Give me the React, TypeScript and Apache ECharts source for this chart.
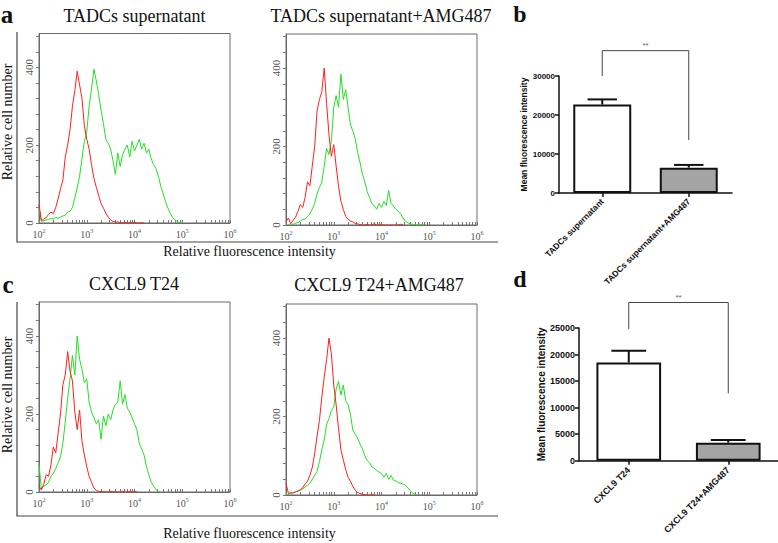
import React, { useEffect, useRef } from "react";
import * as echarts from "echarts";

// ---------- data ----------
// histogram bin centres (log10 of fluorescence intensity)
const LOG_BINS = [
  2.0, 2.05, 2.1, 2.15, 2.2, 2.25, 2.3, 2.35, 2.4, 2.45, 2.5, 2.55, 2.6, 2.65, 2.7, 2.75, 2.8, 2.85, 2.9, 2.95,
  3.0, 3.05, 3.1, 3.15, 3.2, 3.25, 3.3, 3.35, 3.4, 3.45, 3.5, 3.55, 3.6, 3.65, 3.7, 3.75, 3.8, 3.85, 3.9, 3.95,
  4.0, 4.05, 4.1, 4.15, 4.2, 4.25, 4.3, 4.35, 4.4, 4.45, 4.5, 4.55, 4.6, 4.65, 4.7, 4.75, 4.8, 4.85, 4.9, 4.95,
  5.0,
];
const DECADES = [2, 3, 4, 5, 6];
const DECADE_MINOR_OFFSETS = [0, 0.301, 0.477, 0.602, 0.699, 0.778, 0.845, 0.903, 0.954];
const COUNT_LABELS = [0, 200, 400];
const COUNT_TICKS = [0, 40, 80, 120, 160, 200, 240, 280, 320, 360, 400, 440, 480];

// a: TADCs supernatant
const TADC_RED = [
  48, 6, 10, 14, 22, 28, 24, 40, 62, 88, 110, 170, 200, 240, 300, 340, 390, 355, 320, 250, 215,
  190, 150, 115, 92, 70, 50, 38, 25, 15, 8, 4, 2, 3, 0, 1, 2, 0, 1, 0, 2,
  0, 0, 1, 0, 0, 0, 0, 0, 0, 0, 0, 0, 0, 0, 0, 0, 0, 0, 0, 0,
];
const TADC_GREEN = [
  38, 4, 6, 8, 9, 12, 10, 14, 12, 15, 18, 20, 28, 30, 40, 65, 90, 120, 165, 210, 235,
  300, 345, 395, 365, 330, 290, 255, 215, 205, 190, 160, 125, 180, 145, 175, 190, 200, 170, 210, 185,
  200, 215, 190, 205, 180, 190, 165, 150, 140, 120, 95, 75, 55, 38, 25, 14, 8, 3, 1, 0,
];
// a: TADCs supernatant+AMG487
const TADC_AMG_RED = [
  8, 18, 3, 12, 20, 35, 52, 45, 70, 110, 100, 150, 200, 290, 320, 340, 400, 310, 230, 175, 205,
  150, 100, 60, 40, 22, 15, 10, 8, 4, 3, 1, 0, 0, 2, 0, 1, 3, 0, 0, 1,
  0, 0, 0, 0, 0, 0, 0, 2, 0, 0, 0, 0, 0, 0, 0, 0, 0, 0, 0, 0,
];
const TADC_AMG_GREEN = [
  0, 0, 0, 2, 5, 6, 10, 14, 15, 22, 28, 40, 55, 80, 95, 110, 150, 195, 180, 215, 300,
  330, 300, 385, 320, 345, 300, 255, 240, 220, 185, 160, 130, 110, 85, 70, 55, 48, 40, 55, 45,
  60, 50, 88, 55, 48, 40, 35, 28, 18, 10, 6, 3, 2, 1, 0, 2, 0, 0, 0, 0,
];
// c: CXCL9 T24
const CXCL9_RED = [
  15, 5, 20, 45, 40, 70, 115, 100, 150, 200, 275, 300, 360, 310, 285, 205, 160, 210, 130, 95, 65,
  40, 25, 10, 4, 2, 0, 1, 0, 0, 2, 0, 1, 0, 0, 2, 0, 0, 1, 0, 2,
  0, 0, 0, 0, 0, 0, 0, 0, 0, 0, 0, 0, 0, 0, 0, 0, 0, 0, 0, 0,
];
const CXCL9_GREEN = [
  70, 8, 15, 18, 25, 40, 48, 60, 75, 90, 125, 180, 240, 290, 350, 300, 400, 340, 315, 280, 290,
  230, 205, 190, 175, 185, 135, 195, 170, 200, 185, 210, 225, 230, 285, 225, 250, 215, 205, 190, 175,
  160, 125, 110, 95, 65, 45, 25, 15, 6, 2, 0, 0, 0, 0, 0, 0, 0, 0, 0, 0,
];
// c: CXCL9 T24+AMG487
const CXCL9_AMG_RED = [
  30, 4, 6, 5, 8, 10, 14, 18, 28, 35, 50, 70, 105, 150, 190, 250, 300, 345, 400, 360, 280,
  230, 170, 115, 90, 65, 45, 35, 22, 12, 6, 4, 2, 1, 0, 0, 1, 0, 0, 0, 0,
  0, 0, 0, 0, 0, 0, 0, 0, 0, 0, 0, 0, 0, 0, 0, 0, 0, 0, 0, 0,
];
const CXCL9_AMG_GREEN = [
  0, 2, 4, 6, 8, 10, 12, 15, 20, 25, 30, 40, 50, 60, 85, 115, 140, 180, 195, 215, 225,
  270, 290, 255, 280, 240, 230, 205, 165, 155, 145, 130, 118, 100, 88, 82, 72, 68, 62, 58, 55,
  45, 55, 40, 50, 38, 36, 32, 30, 28, 25, 18, 12, 5, 2, 0, 0, 0, 0, 0, 0,
];

// b
const B_CATEGORIES = ["TADCs supernatant", "TADCs supernatant+AMG487"];
const B_MEANS = [22700, 6500];
const B_UPPER = [24000, 7200];
const B_TICKS_MAX = 30000;
const B_BRACKET = [30000, 13600, 36500]; // left leg end, right leg end, top
// d
const D_CATEGORIES = ["CXCL9 T24", "CXCL9 T24+AMG487"];
const D_MEANS = [18500, 3400];
const D_UPPER = [20700, 3900];
const D_TICKS_MAX = 25000;
const D_BRACKET = [24800, 12700, 29800];

const HIST_TITLES = ["TADCs supernatant", "TADCs supernatant+AMG487", "CXCL9 T24", "CXCL9 T24+AMG487"];

// ---------- helpers ----------
const SERIF = '"Liberation Serif", "Times New Roman", serif';
const SANS = '"Liberation Sans", Arial, sans-serif';
const RED = "#ff1f1f";
const GREEN = "#22e022";

function toPairs(vals: number[]) {
  let last = vals.length - 1;
  while (last > 0 && vals[last] === 0) last--;
  return vals.slice(0, Math.min(vals.length, last + 2)).map((v, i) => [LOG_BINS[i], v]);
}

const LOG_TICKS: number[] = [];
DECADES.forEach((d) => {
  if (d === 6) { LOG_TICKS.push(6); return; }
  DECADE_MINOR_OFFSETS.forEach((o) => LOG_TICKS.push(d + o));
});

export default function App() {
  const ref = useRef<HTMLDivElement>(null);
  useEffect(() => {
    document.body.style.margin = "0";
    if (!ref.current) return;
    const chart = echarts.init(ref.current, undefined, { renderer: "svg" });

    const histGrids = [
      { left: 39, top: 33.5, width: 191, height: 189.5 },
      { left: 286, top: 34, width: 191, height: 191 },
      { left: 39, top: 302, width: 191, height: 190 },
      { left: 286, top: 304, width: 191, height: 191 },
    ];
    const histData = [
      [TADC_RED, TADC_GREEN],
      [TADC_AMG_RED, TADC_AMG_GREEN],
      [CXCL9_RED, CXCL9_GREEN],
      [CXCL9_AMG_RED, CXCL9_AMG_GREEN],
    ];

    const grids: any[] = histGrids.map((g) => ({
      ...g,
      show: true,
      borderColor: "#6a6a6a",
      borderWidth: 1,
      backgroundColor: "transparent",
    }));
    grids.push({ left: 559, top: 76, width: 173, height: 117 });
    grids.push({ left: 579, top: 328, width: 199, height: 132.7 });

    const xAxes: any[] = histGrids.map((_, i) => ({
      gridIndex: i,
      type: "value",
      min: 2,
      max: 6,
      interval: 1,
      axisLine: { show: true, lineStyle: { color: "#6a6a6a", width: 1 } },
      axisTick: { show: true, inside: true, length: 3, customValues: LOG_TICKS, lineStyle: { color: "#777" } },
      splitLine: { show: false },
      axisLabel: {
        customValues: DECADES,
        formatter: (v: number) => `10{s|${v}}`,
        fontFamily: SERIF,
        fontSize: 10,
        color: "#555",
        margin: 5,
        lineHeight: 12,
        rich: { s: { fontSize: 6, lineHeight: 12, verticalAlign: "top", fontFamily: SERIF, color: "#555" } },
      },
    }));
    const yAxes: any[] = histGrids.map((_, i) => ({
      gridIndex: i,
      type: "value",
      min: 0,
      max: 487,
      interval: 200,
      axisLine: { show: true, lineStyle: { color: "#6a6a6a", width: 1 } },
      axisTick: { show: true, length: 3, customValues: COUNT_TICKS, lineStyle: { color: "#777" } },
      splitLine: { show: false },
      axisLabel: {
        customValues: COUNT_LABELS,
        rotate: 90,
        fontFamily: SERIF,
        fontSize: 11,
        color: "#555",
        margin: 5,
      },
    }));

    const barAxisCommon = {
      axisLine: { show: true, lineStyle: { color: "#111", width: 1.5 } },
      axisTick: { show: true, length: 4, lineStyle: { color: "#111", width: 1.5 } },
      splitLine: { show: false },
    };
    const plain = (v: number) => String(v);
    xAxes.push({
      gridIndex: 4, type: "category", data: B_CATEGORIES, ...barAxisCommon,
      axisTick: { ...barAxisCommon.axisTick, alignWithLabel: true },
      axisLabel: { interval: 0, rotate: 45, fontFamily: SANS, fontWeight: "bold", fontSize: 8.5, color: "#111", margin: 7 },
    });
    xAxes.push({
      gridIndex: 5, type: "category", data: D_CATEGORIES, ...barAxisCommon,
      axisTick: { ...barAxisCommon.axisTick, alignWithLabel: true },
      axisLabel: { interval: 0, rotate: 45, fontFamily: SANS, fontWeight: "bold", fontSize: 9, color: "#111", margin: 8 },
    });
    yAxes.push({
      gridIndex: 4, type: "value", min: 0, max: B_TICKS_MAX, interval: 10000, ...barAxisCommon,
      axisLabel: { formatter: plain, fontFamily: SANS, fontWeight: "bold", fontSize: 8, color: "#111", margin: 4 },
      name: "Mean fluorescence intensity", nameLocation: "middle", nameGap: 31,
      nameTextStyle: { fontFamily: SANS, fontWeight: "bold", fontSize: 8.5, color: "#111" },
    });
    yAxes.push({
      gridIndex: 5, type: "value", min: 0, max: D_TICKS_MAX, interval: 5000, ...barAxisCommon,
      axisLabel: { formatter: plain, fontFamily: SANS, fontWeight: "bold", fontSize: 9, color: "#111", margin: 4 },
      name: "Mean fluorescence intensity", nameLocation: "middle", nameGap: 28,
      nameTextStyle: { fontFamily: SANS, fontWeight: "bold", fontSize: 10, color: "#111" },
    });

    const series: any[] = [];
    histData.forEach(([red, green], i) => {
      series.push({
        type: "line", xAxisIndex: i, yAxisIndex: i, data: toPairs(green), showSymbol: false,
        lineStyle: { color: GREEN, width: 1 }, itemStyle: { color: GREEN }, z: 3,
      });
      series.push({
        type: "line", xAxisIndex: i, yAxisIndex: i, data: toPairs(red), showSymbol: false,
        lineStyle: { color: RED, width: 1 }, itemStyle: { color: RED }, z: 4,
      });
    });

    const barPanels = [
      { idx: 4, means: B_MEANS, upper: B_UPPER, bracket: B_BRACKET, barW: "67%", cap: 0.34 },
      { idx: 5, means: D_MEANS, upper: D_UPPER, bracket: D_BRACKET, barW: "65%", cap: 0.35 },
    ];
    barPanels.forEach((p) => {
      series.push({
        type: "bar", xAxisIndex: p.idx, yAxisIndex: p.idx, barWidth: p.barW,
        data: p.means.map((m, j) => ({
          value: m,
          itemStyle: { color: j === 0 ? "#ffffff" : "#a4a4a4", borderColor: "#111", borderWidth: 2 },
        })),
        z: 2,
      });
      series.push({
        type: "custom", xAxisIndex: p.idx, yAxisIndex: p.idx, clip: false, z: 3,
        encode: { x: 0, y: [1, 2] },
        data: p.means.map((m, j) => [j, m, p.upper[j]]),
        renderItem: (params: any, api: any) => {
          const x = api.value(0);
          const a = api.coord([x, api.value(1)]);
          const b = api.coord([x, api.value(2)]);
          const half = (api.size([1, 0])[0] * p.cap) / 2;
          return {
            type: "group",
            children: [
              { type: "line", shape: { x1: a[0], y1: a[1], x2: b[0], y2: b[1] }, style: { stroke: "#111", lineWidth: 2 } },
              { type: "line", shape: { x1: b[0] - half, y1: b[1], x2: b[0] + half, y2: b[1] }, style: { stroke: "#111", lineWidth: 2 } },
            ],
          };
        },
      });
      series.push({
        type: "custom", xAxisIndex: p.idx, yAxisIndex: p.idx, clip: false, z: 3,
        encode: { x: [0, 1], y: [2, 3, 4] },
        data: [[0, 1, p.bracket[0], p.bracket[1], p.bracket[2]]],
        renderItem: (params: any, api: any) => {
          const l0 = api.coord([api.value(0), api.value(2)]);
          const lt = api.coord([api.value(0), api.value(4)]);
          const r0 = api.coord([api.value(1), api.value(3)]);
          const rt = api.coord([api.value(1), api.value(4)]);
          return {
            type: "group",
            children: [
              {
                type: "polyline",
                shape: { points: [l0, lt, rt, r0] },
                style: { stroke: "#444", lineWidth: 1, fill: "none" },
              },
              {
                type: "text",
                x: (lt[0] + rt[0]) / 2,
                y: lt[1] - 1,
                style: { text: "**", fill: "#666", fontSize: 8, fontFamily: SANS, align: "center", verticalAlign: "bottom" },
              },
            ],
          };
        },
      });
    });

    const serifText = (text: string, x: number, y: number, size: number, extra: any = {}) => ({
      type: "text",
      x,
      y,
      ...extra,
      style: { text, fill: "#111", fontSize: size, fontFamily: SERIF, align: "center", verticalAlign: "middle", ...(extra.style || {}) },
    });

    const graphic: any[] = [
      { type: "polyline", shape: { points: [[17, 32], [17, 242], [498, 242]] }, style: { stroke: "#444", lineWidth: 1.2, fill: "none" } },
      { type: "polyline", shape: { points: [[17, 302], [17, 516], [498, 516]] }, style: { stroke: "#444", lineWidth: 1.2, fill: "none" } },
      serifText("a", 7, 14, 25, { style: { fontWeight: "bold" } }),
      serifText("b", 520, 14, 24, { style: { fontWeight: "bold" } }),
      serifText("c", 8, 284, 25, { style: { fontWeight: "bold" } }),
      serifText("d", 520, 279, 24, { style: { fontWeight: "bold" } }),
      serifText(HIST_TITLES[0], 134.5, 16, 18),
      serifText(HIST_TITLES[1], 381, 16, 18),
      serifText(HIST_TITLES[2], 134, 284, 18),
      serifText(HIST_TITLES[3], 379, 285, 18),
      serifText("Relative cell number", 7.5, 122, 14, { rotation: Math.PI / 2 }),
      serifText("Relative cell number", 7.5, 395, 14, { rotation: Math.PI / 2 }),
      serifText("Relative fluorescence intensity", 249.5, 251, 14),
      serifText("Relative fluorescence intensity", 249.5, 533, 14),
    ];

    chart.setOption({
      animation: false,
      backgroundColor: "#ffffff",
      grid: grids,
      xAxis: xAxes,
      yAxis: yAxes,
      series,
      graphic,
    });
    return () => chart.dispose();
  }, []);

  return <div ref={ref} style={{ width: 778, height: 543 }} />;
}
